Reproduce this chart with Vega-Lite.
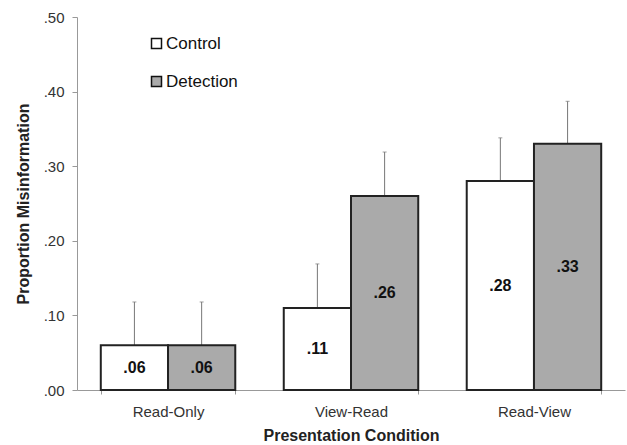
{
  "$schema": "https://vega.github.io/schema/vega-lite/v6.json",
  "width": 548,
  "height": 373,
  "autosize": {"type": "none"},
  "padding": {"left": 77, "top": 17, "right": 2, "bottom": 55},
  "config": {
    "font": "Liberation Sans",
    "view": {"stroke": null},
    "axis": {"grid": false, "domainColor": "#999999", "tickColor": "#999999", "labelColor": "#333333", "labelFontSize": 15, "titleFontSize": 16, "titleFontWeight": "bold", "titleColor": "#222222"}
  },
  "data": {
    "values": [
      {"condition": "Read-Only", "group": "Control", "value": 0.06, "upper": 0.118},
      {"condition": "Read-Only", "group": "Detection", "value": 0.06, "upper": 0.118},
      {"condition": "View-Read", "group": "Control", "value": 0.11, "upper": 0.169},
      {"condition": "View-Read", "group": "Detection", "value": 0.26, "upper": 0.319},
      {"condition": "Read-View", "group": "Control", "value": 0.28, "upper": 0.338},
      {"condition": "Read-View", "group": "Detection", "value": 0.33, "upper": 0.387}
    ]
  },
  "encoding": {
    "x": {
      "field": "condition", "type": "nominal", "sort": ["Read-Only", "View-Read", "Read-View"],
      "scale": {"paddingInner": 0.265, "paddingOuter": 0.13},
      "axis": {"title": "Presentation Condition", "labelAngle": 0, "tickBand": "extent", "tickSize": 4, "labelPadding": 10, "titlePadding": 8}
    },
    "xOffset": {"field": "group", "type": "nominal", "sort": ["Control", "Detection"], "scale": {"paddingInner": 0, "paddingOuter": 0}}
  },
  "layer": [
    {
      "mark": {"type": "rule", "color": "#777777", "strokeWidth": 1},
      "encoding": {
        "y": {"field": "value", "type": "quantitative"},
        "y2": {"field": "upper"}
      }
    },
    {
      "mark": {"type": "tick", "color": "#777777", "size": 4, "thickness": 1},
      "encoding": {
        "y": {"field": "upper", "type": "quantitative"}
      }
    },
    {
      "mark": {"type": "bar", "stroke": "#222222", "strokeWidth": 2},
      "encoding": {
        "y": {
          "field": "value", "type": "quantitative",
          "scale": {"domain": [0, 0.5], "nice": false},
          "axis": {"title": "Proportion Misinformation", "values": [0, 0.1, 0.2, 0.3, 0.4, 0.5], "labelExpr": "replace(format(datum.value, '.2f'), '0.', '.')", "tickSize": 5, "labelPadding": 8, "titlePadding": 12}
        },
        "fill": {
          "field": "group", "type": "nominal",
          "scale": {"domain": ["Control", "Detection"], "range": ["#ffffff", "#aaaaaa"]},
          "legend": {"title": null, "orient": "none", "legendX": 71, "legendY": 18, "symbolType": "square", "symbolSize": 100, "symbolStrokeColor": "#111111", "symbolStrokeWidth": 1.5, "labelFontSize": 17, "labelColor": "#111111", "rowPadding": 20, "labelOffset": 1, "padding": 0}
        }
      }
    },
    {
      "transform": [
        {"calculate": "datum.value / 2", "as": "mid"},
        {"calculate": "replace(format(datum.value, '.2f'), '0.', '.')", "as": "label"}
      ],
      "mark": {"type": "text", "fontWeight": "bold", "fontSize": 16, "color": "#111111", "baseline": "middle"},
      "encoding": {
        "y": {"field": "mid", "type": "quantitative"},
        "text": {"field": "label", "type": "nominal"}
      }
    }
  ]
}
